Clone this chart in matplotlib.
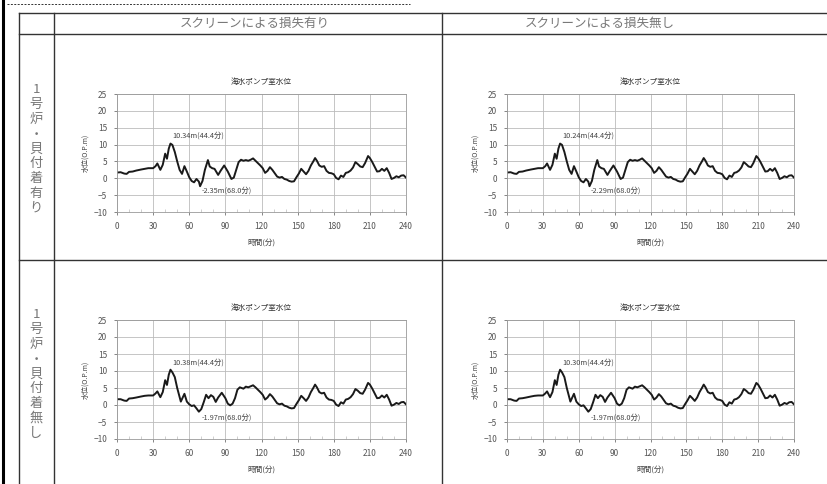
import matplotlib
matplotlib.use("Agg")
import matplotlib.pyplot as plt
from matplotlib.ticker import MultipleLocator

plt.rcParams["font.family"] = ["Noto Sans CJK JP", "DejaVu Sans"]

# column / row headings
col_titles = ["スクリーンによる損失有り", "スクリーンによる損失無し"]
row_titles = ["1号炉・貝付着有り", "1号炉・貝付着無し"]
chart_title = "海水ポンプ室水位"
x_label = "時間(分)"
y_label = "水位(O.P.m)"
x_ticks = [0, 30, 60, 90, 120, 150, 180, 210, 240]
y_ticks = [-10, -5, 0, 5, 10, 15, 20, 25]

# water level (O.P.m) vs time (min), row 1: shellfish attached
t_row1 = [0, 3, 6, 8, 10, 13, 16, 20, 23, 26, 30, 32, 33.5, 36, 38, 40, 41.5, 43, 44.4, 46,
          48, 50, 52, 54, 56, 58, 60, 62, 64, 66, 68, 69, 71, 73, 75.5, 77, 79, 81, 84, 86,
          89, 92, 95, 97, 99, 101, 103, 105, 107, 109, 111, 113, 115, 117, 119, 121, 123, 125, 127, 129,
          131, 133, 135, 137, 139, 141, 143, 145, 147, 149, 151, 153, 155, 157, 159, 161, 163, 164.5, 166, 168,
          170, 172, 174, 176, 178, 180, 182, 184, 186, 188, 190, 192, 194, 196, 198, 200, 202, 204, 206, 208.5,
          210, 212, 214, 216, 218, 220, 222, 224, 226, 228, 230, 232, 234, 236, 238, 240]
v_row1 = [1.7, 1.8, 1.4, 1.3, 1.9, 2.0, 2.3, 2.6, 2.8, 3.0, 3.0, 3.6, 4.4, 2.5, 4.0, 7.3, 5.8, 8.8, 10.3, 9.9,
          7.8, 5.0, 2.5, 1.3, 3.6, 2.0, 0.3, -0.8, -1.2, -0.2, -1.0, -2.35, -0.8, 2.5, 5.4, 3.5, 3.0, 2.8, 1.0, 2.2,
          3.8, 2.0, -0.2, 0.2, 2.5, 4.8, 5.5, 5.2, 5.4, 5.2, 5.5, 5.9, 5.2, 4.5, 3.8, 3.0, 1.6, 2.2, 3.3, 2.5,
          1.5, 0.5, 0.2, 0.4, -0.2, -0.4, -0.8, -1.0, -0.9, 0.3, 1.4, 2.8, 2.0, 1.2, 2.2, 3.8, 5.0, 6.0, 5.2, 3.8,
          3.4, 3.6, 2.2, 1.6, 1.5, 1.2, 0.1, -0.3, 0.8, 0.4, 1.6, 1.8, 2.3, 3.2, 4.8, 4.2, 3.5, 3.3, 4.5, 6.6,
          6.0, 4.8, 3.4, 2.0, 2.1, 2.8, 2.2, 3.0, 1.6, -0.2, 0.1, 0.6, 0.3, 0.8, 0.9, 0.2]

# row 2: no shellfish
t_row2 = [0, 3, 6, 8, 10, 13, 16, 20, 23, 26, 30, 32, 33.5, 36, 38, 40, 41.5, 43, 44.4, 46,
          48, 50, 53, 56, 58, 60, 62, 64, 66, 68, 70, 72, 74, 76, 78, 80, 82, 84, 87, 90,
          92, 94, 96, 98, 100, 102, 105, 107, 109, 111, 113, 115, 117, 119, 121, 123, 125, 127, 129,
          131, 133, 135, 137, 139, 141, 143, 145, 147, 149, 151, 153, 155, 157, 159, 161, 163, 164.5, 166, 168,
          170, 172, 174, 176, 178, 180, 182, 184, 186, 188, 190, 192, 194, 196, 198, 200, 202, 204, 206, 208.5,
          210, 212, 214, 216, 218, 220, 222, 224, 226, 228, 230, 232, 234, 236, 238, 240]
v_row2 = [1.7, 1.7, 1.3, 1.2, 1.9, 2.0, 2.2, 2.5, 2.7, 2.8, 2.8, 3.4, 4.0, 2.3, 3.8, 7.3, 5.9, 8.9, 10.38, 9.6,
          8.2, 5.0, 1.0, 3.3, 1.0, 0.2, -0.3, -0.1, -1.0, -1.97, -1.2, 0.8, 3.0, 2.0, 2.9, 2.4, 0.9, 2.2, 3.6, 2.0,
          0.4, -0.1, 0.4, 2.0, 4.5, 5.2, 4.8, 5.4, 5.2, 5.5, 5.8, 5.2, 4.5, 3.8, 3.0, 1.6, 2.2, 3.2, 2.5,
          1.5, 0.5, 0.2, 0.4, -0.2, -0.4, -0.8, -1.0, -0.9, 0.3, 1.4, 2.7, 2.0, 1.2, 2.2, 3.8, 5.0, 6.0, 5.2, 3.8,
          3.4, 3.6, 2.2, 1.6, 1.5, 1.2, 0.1, -0.3, 0.8, 0.4, 1.6, 1.8, 2.3, 3.2, 4.7, 4.2, 3.5, 3.3, 4.5, 6.5,
          6.0, 4.8, 3.4, 2.0, 2.1, 2.8, 2.2, 3.0, 1.6, -0.2, 0.1, 0.6, 0.3, 0.8, 0.9, 0.2]

max_labels = [["10.34m(44.4分)", "10.24m(44.4分)"], ["10.38m(44.4分)", "10.30m(44.4分)"]]
min_labels = [["-2.35m(68.0分)", "-2.29m(68.0分)"], ["-1.97m(68.0分)", "-1.97m(68.0分)"]]

W, H = 827, 484
fig = plt.figure(figsize=(W / 100, H / 100), dpi=100)
fig.patch.set_facecolor("white")

# table frame drawn in pixel space
bg = fig.add_axes([0, 0, 1, 1], zorder=0)
bg.set_xlim(0, W)
bg.set_ylim(H, 0)
bg.axis("off")
line_c = "#333333"
bg.plot([3, 3], [0, H], color="black", lw=2.2)
bg.plot([7, 410], [4, 4], color="#333333", lw=0.7, ls=(0, (2, 1.5)))
for y in [12.5, 34, 260]:
    bg.plot([19, W], [y, y], color=line_c, lw=1.0)
for x in [19, 54, 442]:
    bg.plot([x, x], [12.5, H], color=line_c, lw=1.0)

for x, txt in zip([255, 600], col_titles):
    bg.text(x, 23, txt, ha="center", va="center", fontsize=9, color="#777777")

for yc, txt in zip([149, 374], row_titles):
    step = 14.8
    y0 = yc - step * (len(txt) - 1) / 2
    for i, ch in enumerate(txt):
        bg.text(36, y0 + i * step, ch, ha="center", va="center", fontsize=9.5, color="#777777")

# chart boxes in pixels: (left, top, right, bottom)
boxes = [[(117, 94, 406, 212), (507, 94, 794, 212)],
         [(117, 320, 406, 439), (507, 320, 794, 439)]]
series = [(t_row1, v_row1), (t_row2, v_row2)]

for r in range(2):
    for c in range(2):
        x0, y0, x1, y1 = boxes[r][c]
        ax = fig.add_axes([x0 / W, 1 - y1 / H, (x1 - x0) / W, (y1 - y0) / H], zorder=2)
        t, v = series[r]
        ax.plot(t, v, color="#1a1a1a", lw=1.4)
        ax.set_xlim(0, 240)
        ax.set_ylim(-10, 25)
        ax.set_xticks(x_ticks)
        ax.set_yticks(y_ticks)
        ax.xaxis.set_minor_locator(MultipleLocator(10))
        ax.grid(True, which="major", color="#bbbbbb", lw=0.6)
        ax.tick_params(axis="both", which="major", labelsize=6, length=2, width=0.5,
                       colors="#555555", pad=5)
        ax.tick_params(axis="x", which="minor", length=2, width=0.5, direction="in", color="#bbbbbb")
        for s in ax.spines.values():
            s.set_color("#999999")
            s.set_linewidth(0.6)
        ax.set_title(chart_title, fontsize=5.5, pad=7, color="#333333")
        ax.set_xlabel(x_label, fontsize=5.5, labelpad=6, color="#444444")
        ax.set_ylabel(y_label, fontsize=5, labelpad=3, color="#444444")
        ax.text(46, 12.6, max_labels[r][c], fontsize=5.3, va="center", color="#444444")
        ax.text(70, -3.7, min_labels[r][c], fontsize=5.3, va="center", color="#444444")

fig.savefig("out.png", dpi=100)
